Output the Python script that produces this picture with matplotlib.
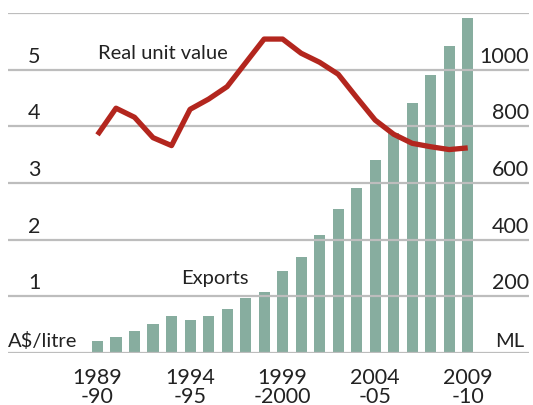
import matplotlib
matplotlib.use('Agg')
import matplotlib.pyplot as plt
import numpy as np
import matplotlib.transforms as mtransforms

plt.rcParams['font.family'] = ['Lato', 'DejaVu Sans']

# financial years 1989-90 .. 2009-10
years = ['1989-90', '1990-91', '1991-92', '1992-93', '1993-94', '1994-95',
         '1995-96', '1996-97', '1997-98', '1998-99', '1999-2000', '2000-01',
         '2001-02', '2002-03', '2003-04', '2004-05', '2005-06', '2006-07',
         '2007-08', '2008-09', '2009-10']
# export volume, ML (right axis)
exports = [42, 58, 78, 102, 130, 116, 130, 155, 194, 215, 290, 339,
           417, 508, 582, 681, 778, 882, 981, 1083, 1182]
# real unit value, A$/litre (left axis)
unit_value = [3.85, 4.32, 4.16, 3.80, 3.66, 4.30, 4.48, 4.70, 5.12, 5.54,
              5.54, 5.29, 5.13, 4.92, 4.51, 4.11, 3.86, 3.70, 3.64, 3.59, 3.62]
tick_idx = [0, 5, 10, 15, 20]
tick_labels = ['1989\n-90', '1994\n-95', '1999\n-2000', '2004\n-05', '2009\n-10']
left_labels = ['1', '2', '3', '4', '5']
right_labels = ['200', '400', '600', '800', '1000']

txt = '#222222'
grid_c = '#bdbdbd'
bar_c = '#87ad9f'
line_c = '#b3261e'
fs = 14.5
fs_num = 15.5

fig = plt.figure(figsize=(5.33, 4.06), dpi=100)
ax = fig.add_axes([8 / 533, 52 / 406, 521 / 533, 340 / 406])
ax2 = ax.twinx()

x = np.arange(len(years))
ax.set_xlim(-4.835, 23.31)
ax.set_ylim(0, 6)
ax2.set_ylim(0, 1200)

for v in range(0, 7):
    ax.axhline(v, color=grid_c, lw=1.6, zorder=0)

ax2.bar(x, exports, width=0.6, color=bar_c, zorder=2)
ax.plot(x, unit_value, color=line_c, lw=3.8, solid_joinstyle='round',
        solid_capstyle='butt', zorder=5)
ax.set_zorder(ax2.get_zorder() + 1)
ax.patch.set_visible(False)

for a in (ax, ax2):
    for s in a.spines.values():
        s.set_visible(False)
    a.set_yticks([])
    a.tick_params(length=0)

ax.set_xticks(x[tick_idx])
ax.set_xticklabels(tick_labels, fontsize=fs_num, color=txt, linespacing=0.95)
ax.tick_params(axis='x', pad=10)

tr_l = mtransforms.blended_transform_factory(fig.transFigure, ax.transData)
tr_l = mtransforms.offset_copy(tr_l, fig=fig, x=0, y=4, units='dots')
for i, lab in enumerate(left_labels):
    ax.text(28 / 533, i + 1, lab, transform=tr_l, fontsize=fs_num, color=txt,
            ha='left', va='bottom')
ax.text(8 / 533, 0, 'A$/litre', transform=tr_l, fontsize=fs, color=txt,
        ha='left', va='bottom')
for i, lab in enumerate(right_labels):
    ax.text(529 / 533, i + 1, lab, transform=tr_l, fontsize=fs_num, color=txt,
            ha='right', va='bottom')
ax.text(524 / 533, 0, 'ML', transform=tr_l, fontsize=fs, color=txt,
        ha='right', va='bottom')

ax.text(0.05, 5.3, 'Real unit value', fontsize=fs, color=txt, ha='left', va='center')
ax.text(4.5, 1.33, 'Exports', fontsize=fs, color=txt, ha='left', va='center')

fig.savefig('out.png', dpi=100)
